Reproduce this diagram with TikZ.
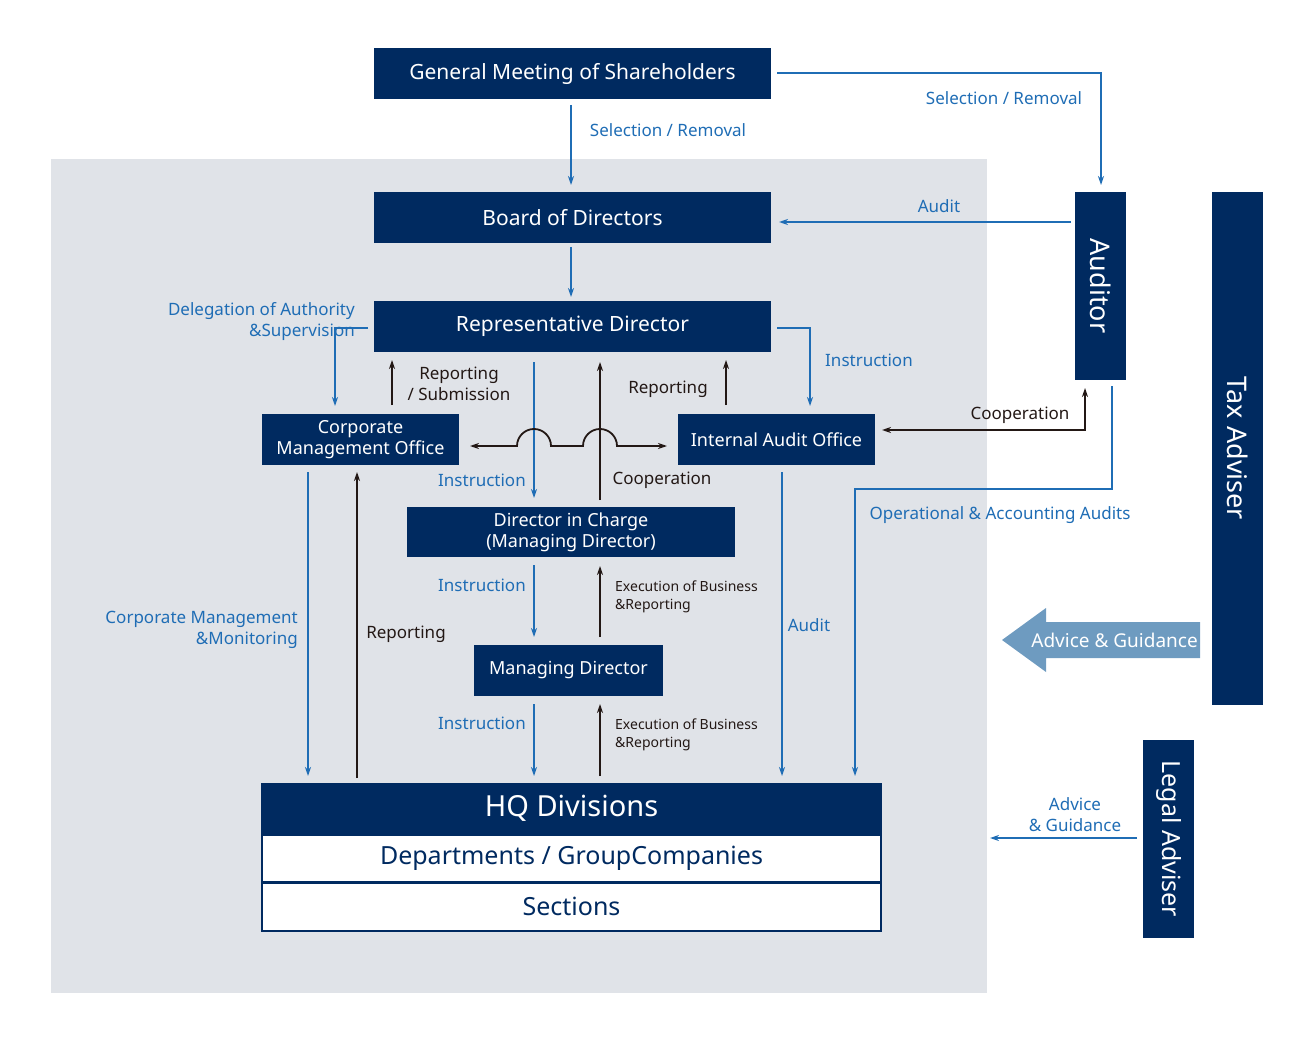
\documentclass[tikz,border=0pt]{standalone}
\usepackage{fontspec}
\setmainfont{Noto Sans}
\usetikzlibrary{arrows.meta}
\definecolor{navy}{HTML}{002A60}
\definecolor{lblue}{HTML}{1F6DB5}
\definecolor{bgg}{HTML}{E0E3E8}
\definecolor{dk}{HTML}{231815}
\definecolor{bigarr}{HTML}{6E9BC0}
\begin{document}
\begin{tikzpicture}[x=1pt,y=-1pt,
 box/.style={fill=navy,text=white,font=\fontsize{21}{23}\selectfont\bfseries,inner sep=0pt,align=center},
 sbox/.style={fill=navy,text=white,font=\fontsize{18}{21}\selectfont\bfseries,inner sep=0pt,align=center},
 wbox/.style={fill=white,draw=navy,line width=2pt,text=navy,font=\fontsize{25}{27}\selectfont\bfseries,inner sep=0pt},
 bl/.style={draw=lblue,line width=1.8pt,-{Stealth[length=9pt,width=6pt]}},
 bk/.style={draw=dk,line width=1.8pt,-{Stealth[length=9pt,width=6pt]}},
 lb/.style={text=lblue,font=\fontsize{17}{21}\selectfont,inner sep=0pt},
 lk/.style={text=dk,font=\fontsize{17}{21}\selectfont,inner sep=0pt},
 lks/.style={text=dk,font=\fontsize{14}{18}\selectfont,inner sep=0pt,align=left}]
\useasboundingbox (0,0) rectangle (1312,1043);
\fill[bgg] (51,159) rectangle (987,993);
\node[box,minimum width=397pt,minimum height=51pt] (gms) at (572.5,73.5) {General Meeting of Shareholders};
\node[box,minimum width=397pt,minimum height=51pt] (bod) at (572.5,217.5) {Board of Directors};
\node[box,minimum width=397pt,minimum height=51pt] (rep) at (572.5,326.5) {Representative Director};
\node[sbox,minimum width=197pt,minimum height=51pt] (cmo) at (360.5,439.5) {Corporate\\Management Office};
\node[sbox,minimum width=197pt,minimum height=51pt] (iao) at (776.5,439.5) {Internal Audit Office};
\node[sbox,minimum width=328pt,minimum height=50pt] (dic) at (571,532) {Director in Charge\\(Managing Director)};
\node[sbox,minimum width=189pt,minimum height=51pt] (md) at (568.5,670.5) {Managing Director};
\node[box,font=\fontsize{29}{31}\selectfont\bfseries,minimum width=621pt,minimum height=51pt] (hq) at (571.5,808.5) {HQ Divisions};
\node[wbox,minimum width=619pt,minimum height=47pt] (dep) at (571.5,858) {Departments / GroupCompanies};
\node[wbox,minimum width=619pt,minimum height=48pt] (sec) at (571.5,906.5) {Sections};
\node[box,font=\fontsize{27}{29}\selectfont\bfseries,rotate=-90,minimum width=188pt,minimum height=51pt] (aud) at (1100.5,286) {Auditor};
\node[box,font=\fontsize{27}{29}\selectfont\bfseries,rotate=-90,minimum width=513pt,minimum height=51pt] (tax) at (1237.5,448.5) {Tax Adviser};
\node[box,font=\fontsize{25}{27}\selectfont\bfseries,rotate=-90,minimum width=198pt,minimum height=51pt] (leg) at (1168.5,839) {Legal Adviser};
% big arrow
\fill[bigarr] (1200,622) -- (1046,622) -- (1046,608) -- (1002,640) -- (1046,672) -- (1046,658) -- (1200,658) -- cycle;
\node[text=white,font=\fontsize{19}{21}\selectfont\bfseries,inner sep=0pt,anchor=east] (adv) at (1198,640) {Advice \& Guidance};
% blue connectors
\draw[bl] (777,73) -- (1101,73) -- (1101,185);
\node[lb] (l1) at (1004,98) {Selection / Removal};
\draw[bl] (571,105) -- (571,185);
\node[lb] (l2) at (668,130) {Selection / Removal};
\draw[bl] (1071,222) -- (779,222);
\node[lb] (l3) at (939,206) {Audit};
\draw[bl] (571,247) -- (571,297);
\draw[bl] (368,328) -- (335,328) -- (335,406);
\node[lb,align=right,anchor=east] (l4) at (355,322) {Delegation of Authority\\\&Supervision};
\draw[bl] (777,328) -- (810,328) -- (810,406);
\node[lb] (l5) at (869,360) {Instruction};
\draw[bl] (1112,386) -- (1112,489) -- (855,489) -- (855,776);
\node[lb] (l6) at (1000,515) {Operational \& Accounting Audits};
\draw[bl] (534,362) -- (534,498);
\node[lb] (l7) at (482,480) {Instruction};
\draw[bl] (308,472) -- (308,776);
\node[lb,align=right,anchor=east] (l8) at (298,630) {Corporate Management\\\&Monitoring};
\draw[bl] (782,472) -- (782,776);
\node[lb] (l9) at (809,625) {Audit};
\draw[bl] (534,565) -- (534,637);
\node[lb] (l10) at (482,585) {Instruction};
\draw[bl] (534,704) -- (534,776);
\node[lb] (l11) at (482,723) {Instruction};
\draw[bl] (1137,838) -- (990,838);
\node[lb,align=center] (l12) at (1075,815) {Advice\\\& Guidance};
% black connectors
\draw[bk] (392,405) -- (392,360);
\node[lk,align=center] (k1) at (459,384) {Reporting\\/ Submission};
\draw[bk] (726,405) -- (726,360);
\node[lk] (k2) at (668,389) {Reporting};
\draw[bk,{Stealth[length=9pt,width=6pt]}-{Stealth[length=9pt,width=6pt]}] (882,430) -- (1085,430) -- (1085,388);
\node[lk] (k3) at (1020,415) {Cooperation};
\draw[bk] (600,500) -- (600,362);
\node[lk] (k4) at (662,480) {Cooperation};
\draw[bk,{Stealth[length=9pt,width=6pt]}-{Stealth[length=9pt,width=6pt]}] (470,446) -- (517,446) arc (180:360:17) -- (583,446) arc (180:360:17) -- (667,446);
\draw[bk] (357,778) -- (357,472);
\node[lk] (k5) at (406,634) {Reporting};
\draw[bk] (600,637) -- (600,566);
\node[lks,anchor=west] (k6) at (615,597) {Execution of Business\\\&Reporting};
\draw[bk] (600,776) -- (600,704);
\node[lks,anchor=west] (k7) at (615,735) {Execution of Business\\\&Reporting};
\end{tikzpicture}
\end{document}
